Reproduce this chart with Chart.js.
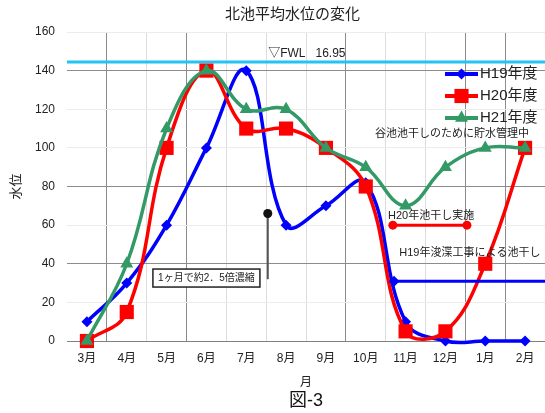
<!DOCTYPE html>
<html lang="ja">
<head>
<meta charset="utf-8">
<title>北池平均水位の変化</title>
<script src="https://cdn.jsdelivr.net/npm/chart.js@4/dist/chart.umd.min.js"></script>
<style>
  html, body { margin: 0; padding: 0; background: #fff; }
  canvas { display: block; }
</style>
</head>
<body>
<canvas id="chart" width="545" height="413"></canvas>
<script>
// Months of the water year (March to February)
const months = ['3月', '4月', '5月', '6月', '7月', '8月', '9月', '10月', '11月', '12月', '1月', '2月'];

// Mean water level of the north pond, per fiscal year
const levelH19 = [10, 30, 60, 100, 140, 60, 70, 82, 10, 0, 0, 0];
const levelH20 = [0, 15, 100, 140, 110, 110, 100, 80, 5, 5, 40, 100];
const levelH21 = [0, 40, 110, 140, 120, 120, 100, 90, 70, 90, 100, 100];

// Y axis range
const yMin = 0;
const yMax = 160;
const yStep = 20;

// Full water level reference
const fwlLevel = 144.5;
const fwlLabel = '▽FWL   16.95';

// Drained periods (month index ranges) and their marker levels
const h20DrainSpan = [7.68, 9.54];
const h20DrainLevel = 60;
const h19DrainSpan = [7.71, 11.5];
const h19DrainLevel = 31;

// Concentration pointer: month position and level range
const pointerMonth = 4.54;
const pointerLevels = [66, 32];

const FONT = '"Liberation Sans", "Noto Sans CJK JP", sans-serif';
Chart.defaults.font.family = FONT;
Chart.defaults.color = '#222';

const BLUE = '#0000ff';
const RED = '#ff0000';
const GREEN = '#339966';
const CYAN = '#22c4f2';

function marker(ctx, style, x, y, r, color) {
  ctx.save();
  ctx.fillStyle = color;
  ctx.beginPath();
  if (style === 'rectRot') {
    ctx.moveTo(x, y - r); ctx.lineTo(x + r, y); ctx.lineTo(x, y + r); ctx.lineTo(x - r, y);
  } else if (style === 'rect') {
    const h = r * Math.SQRT1_2;
    ctx.rect(x - h, y - h, 2 * h, 2 * h);
  } else if (style === 'triangle') {
    for (let k = 0; k < 3; k++) {
      const ang = k * 2 * Math.PI / 3;
      const px = x + Math.sin(ang) * r, py = y - Math.cos(ang) * r;
      if (k === 0) ctx.moveTo(px, py); else ctx.lineTo(px, py);
    }
  } else {
    ctx.arc(x, y, r, 0, Math.PI * 2);
  }
  ctx.closePath();
  ctx.fill();
  ctx.restore();
}

function text(ctx, str, x, y, size, align) {
  ctx.save();
  ctx.font = size + 'px ' + FONT;
  ctx.fillStyle = '#222';
  ctx.textAlign = align || 'left';
  ctx.textBaseline = 'middle';
  ctx.fillText(str, x, y);
  ctx.restore();
}

const overlay = {
  id: 'overlay',
  beforeDatasetsDraw(chart) {
    const { ctx, chartArea: a, scales: { y } } = chart;
    const yy = y.getPixelForValue(fwlLevel);
    ctx.save();
    ctx.strokeStyle = CYAN;
    ctx.lineWidth = 3;
    ctx.beginPath();
    ctx.moveTo(a.left, yy);
    ctx.lineTo(a.right, yy);
    ctx.stroke();
    ctx.restore();
  },
  afterDatasetsDraw(chart) {
    const { ctx, chartArea: a, scales: { x, y } } = chart;

    // chart title
    text(ctx, '北池平均水位の変化', chart.width / 2 + 20, 15, 15, 'center');

    // FWL label
    text(ctx, fwlLabel, x.getPixelForValue(4.55), y.getPixelForValue(148.6), 12);

    // H20 drained period
    const ry = y.getPixelForValue(h20DrainLevel);
    const rx0 = x.getPixelForValue(h20DrainSpan[0]);
    const rx1 = x.getPixelForValue(h20DrainSpan[1]);
    ctx.save();
    ctx.strokeStyle = RED; ctx.lineWidth = 3;
    ctx.beginPath(); ctx.moveTo(rx0, ry); ctx.lineTo(rx1, ry); ctx.stroke();
    ctx.restore();
    marker(ctx, 'circle', rx0, ry, 4.5, RED);
    marker(ctx, 'circle', rx1, ry, 4.5, RED);
    text(ctx, 'H20年池干し実施', x.getPixelForValue(7.56), y.getPixelForValue(64.7), 11);

    // H19 dredging drain
    const by = y.getPixelForValue(h19DrainLevel);
    const bx0 = x.getPixelForValue(h19DrainSpan[0]);
    const bx1 = x.getPixelForValue(h19DrainSpan[1]);
    ctx.save();
    ctx.strokeStyle = BLUE; ctx.lineWidth = 3;
    ctx.beginPath(); ctx.moveTo(bx0, by); ctx.lineTo(bx1, by); ctx.stroke();
    ctx.restore();
    marker(ctx, 'rectRot', bx0, by, 5.5, BLUE);
    text(ctx, 'H19年浚渫工事による池干し', x.getPixelForValue(7.84), y.getPixelForValue(45.6), 11);

    // storage note
    text(ctx, '谷池池干しのために貯水管理中', x.getPixelForValue(7.23), y.getPixelForValue(107.2), 11);

    // concentration pointer
    const px = x.getPixelForValue(pointerMonth);
    const py0 = y.getPixelForValue(pointerLevels[0]);
    const py1 = y.getPixelForValue(pointerLevels[1]);
    ctx.save();
    ctx.strokeStyle = '#555'; ctx.lineWidth = 2;
    ctx.beginPath(); ctx.moveTo(px, py0); ctx.lineTo(px, py1); ctx.stroke();
    ctx.restore();
    marker(ctx, 'circle', px, py0, 4.5, '#111');

    // callout box
    const cx = x.getPixelForValue(3.0);
    const cy = y.getPixelForValue(32.6);
    ctx.save();
    ctx.fillStyle = '#fff';
    ctx.strokeStyle = '#222';
    ctx.lineWidth = 1.5;
    ctx.fillRect(cx - 53.5, cy - 9, 107, 18);
    ctx.strokeRect(cx - 53.5, cy - 9, 107, 18);
    ctx.restore();
    text(ctx, '1ヶ月で約2．5倍濃縮', cx, cy + 0.5, 10, 'center');

    // legend
    const rows = [74, 96, 118];
    chart.data.datasets.forEach((ds, i) => {
      const ly = rows[i];
      const lx0 = a.right - 100, lx1 = a.right - 67;
      ctx.save();
      ctx.strokeStyle = ds.borderColor; ctx.lineWidth = 4;
      ctx.beginPath(); ctx.moveTo(lx0, ly); ctx.lineTo(lx1, ly); ctx.stroke();
      ctx.restore();
      marker(ctx, ds.pointStyle, (lx0 + lx1) / 2, ly, ds.pointRadius, ds.borderColor);
      text(ctx, ds.label, lx1 + 2, ly, 15);
    });
  }
};

const darkX = [1, 3, 7, 10, 11];
const darkY = [40, 80, 140];

new Chart(document.getElementById('chart'), {
  type: 'line',
  data: {
    labels: months,
    datasets: [
      { label: 'H19年度', data: levelH19, borderColor: BLUE, backgroundColor: BLUE,
        pointStyle: 'rectRot', pointRadius: 5.5, pointBorderWidth: 0, order: 2 },
      { label: 'H20年度', data: levelH20, borderColor: RED, backgroundColor: RED,
        pointStyle: 'rect', pointRadius: 10, pointBorderWidth: 0, order: 1 },
      { label: 'H21年度', data: levelH21, borderColor: GREEN, backgroundColor: GREEN,
        pointStyle: 'triangle', pointRadius: 7.5, pointBorderWidth: 0, order: 0 }
    ]
  },
  options: {
    responsive: false,
    animation: false,
    events: [],
    layout: { autoPadding: false, padding: { top: 32, right: 0, bottom: 0, left: 0 } },
    datasets: { line: { clip: false } },
    elements: { line: { tension: 0.4, capBezierPoints: false, borderWidth: 3.5 } },
    plugins: {
      legend: { display: false },
      tooltip: { enabled: false },
      subtitle: {
        display: true, text: '図-3', position: 'bottom', fullSize: false,
        color: '#111', font: { size: 18, weight: 'normal' }, padding: { top: 0, bottom: 1.6 }
      }
    },
    scales: {
      x: {
        offset: true,
        grid: {
          offset: true, drawTicks: false, lineWidth: 1,
          color: (c) => (c.index === undefined || c.index === 0) ? 'rgba(0,0,0,0)'
            : (darkX.includes(c.index) ? '#8c8c8c' : '#dcdcdc')
        },
        border: { display: true, color: '#808080' },
        ticks: { padding: 10, font: { size: 12 }, color: '#222' },
        title: { display: true, text: '月', font: { size: 12 }, color: '#222', padding: { top: 0, bottom: 0 } },
        afterFit(scale) { scale.paddingLeft = 0; scale.paddingRight = 0; }
      },
      y: {
        min: yMin, max: yMax,
        ticks: { stepSize: yStep, padding: 12, font: { size: 12 }, color: '#222' },
        grid: {
          drawTicks: false, lineWidth: 1,
          color: (c) => c.tick.value === 0 ? '#808080'
            : (darkY.includes(c.tick.value) ? '#8c8c8c' : '#ececec')
        },
        border: { display: false },
        title: { display: true, text: '水位', font: { size: 13 }, color: '#222', padding: { top: 9, bottom: 0 } },
        afterFit(scale) { scale.width = 67; }
      }
    }
  },
  plugins: [overlay]
});
</script>
</body>
</html>
